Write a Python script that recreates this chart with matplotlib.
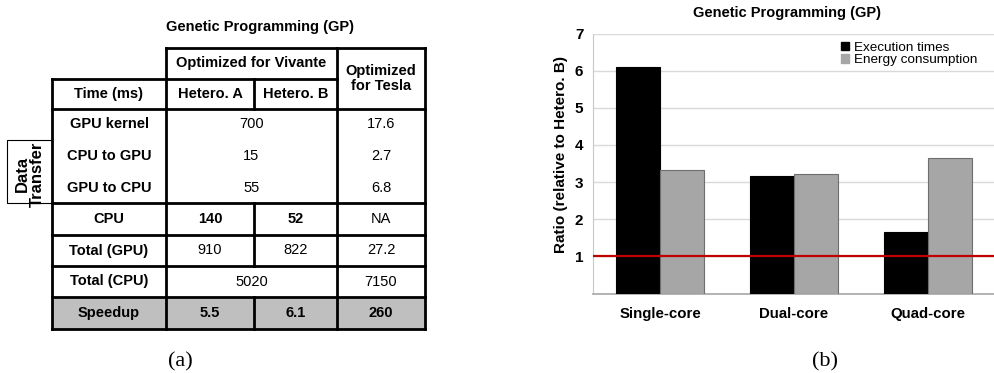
import matplotlib
matplotlib.use("Agg")
import matplotlib.pyplot as plt
from matplotlib.patches import Patch, Rectangle

plt.rcParams['font.family'] = ['Liberation Sans', 'DejaVu Sans']

# ---- table data (a) ----
row_labels = ["GPU kernel", "CPU to GPU", "GPU to CPU", "CPU",
              "Total (GPU)", "Total (CPU)", "Speedup"]
hetero_a = ["700", "15", "55", "140", "910", "5020", "5.5"]
hetero_b = [None, None, None, "52", "822", None, "6.1"]   # None -> merged with A
tesla = ["17.6", "2.7", "6.8", "NA", "27.2", "7150", "260"]
bold_rows = {"CPU": (True, True, False), "Speedup": (True, True, True)}

# ---- bar chart data (b) ----
categories = ["Single-core", "Dual-core", "Quad-core"]
exec_times = [6.1, 3.16, 1.65]
energy = [3.32, 3.23, 3.66]
baseline = 1.0

W, H = 995, 373
fig = plt.figure(figsize=(W / 100, H / 100), dpi=100)

# ---------------- table, drawn in pixel coordinates ----------------
tax = fig.add_axes([0, 0, 1, 1])
tax.set_xlim(0, W)
tax.set_ylim(H, 0)
tax.axis('off')

cols = [52, 166, 254, 337, 425]
hdr = [48, 79, 109]
row_edges = [109, 140, 172, 203, 235, 266, 297, 329]
lw = 2.0
fs = 10.5

# speedup shading
tax.add_patch(Rectangle((cols[0], row_edges[-2]), cols[-1] - cols[0],
                        row_edges[-1] - row_edges[-2], color='#bfbfbf', lw=0))

def hline(y, x0, x1):
    tax.plot([x0, x1], [y, y], color='black', lw=lw, solid_capstyle='projecting')

def vline(x, y0, y1):
    tax.plot([x, x], [y0, y1], color='black', lw=lw, solid_capstyle='projecting')

hline(hdr[0], cols[1], cols[4])
hline(hdr[1], cols[0], cols[3])
hline(hdr[2], cols[0], cols[4])
for y in row_edges[3:]:
    hline(y, cols[0], cols[4])
vline(cols[0], hdr[1], row_edges[-1])
vline(cols[1], hdr[0], row_edges[-1])
vline(cols[3], hdr[0], row_edges[-1])
vline(cols[4], hdr[0], row_edges[-1])
vline(cols[2], hdr[1], hdr[2])
for i, b in enumerate(hetero_b):
    if b is not None:
        vline(cols[2], row_edges[i], row_edges[i + 1])

def cell(x, y, s, bold=False, **kw):
    tax.text(x, y, s, ha='center', va='center', fontsize=fs,
             fontweight='bold' if bold else 'normal', **kw)

mid = lambda a, b: (a + b) / 2
cell(mid(cols[1], cols[3]), mid(hdr[0], hdr[1]), "Optimized for Vivante", True)
cell(mid(cols[3], cols[4]), mid(hdr[0], hdr[2]), "Optimized\nfor Tesla", True, linespacing=1.1)
cell(mid(cols[0], cols[1]), mid(hdr[1], hdr[2]), "Time (ms)", True)
cell(mid(cols[1], cols[2]), mid(hdr[1], hdr[2]), "Hetero. A", True)
cell(mid(cols[2], cols[3]), mid(hdr[1], hdr[2]), "Hetero. B", True)

for i, lab in enumerate(row_labels):
    yc = mid(row_edges[i], row_edges[i + 1])
    ba, bb, bt = bold_rows.get(lab, (False, False, False))
    cell(mid(cols[0], cols[1]), yc, lab, True)
    if hetero_b[i] is None:
        cell(mid(cols[1], cols[3]), yc, hetero_a[i], ba)
    else:
        cell(mid(cols[1], cols[2]), yc, hetero_a[i], ba)
        cell(mid(cols[2], cols[3]), yc, hetero_b[i], bb)
    cell(mid(cols[3], cols[4]), yc, tesla[i], bt)

# "Data Transfer" side box
tax.add_patch(Rectangle((7, 140), cols[0] - 7, row_edges[3] - 140,
                        fill=False, ec='black', lw=0.8))
tax.text(30, 174, "Data\nTransfer", rotation=90, ha='center', va='center',
         fontsize=12, fontweight='bold', linespacing=0.95)

tax.text(260, 27, "Genetic Programming (GP)", ha='center', va='center',
         fontsize=10.5, fontweight='bold')
tax.text(180, 362, "(a)", ha='center', va='center', fontsize=16,
         family='Liberation Serif')
tax.text(825, 362, "(b)", ha='center', va='center', fontsize=16,
         family='Liberation Serif')
tax.text(787, 13, "Genetic Programming (GP)", ha='center', va='center',
         fontsize=10.5, fontweight='bold')

# ---------------- bar chart ----------------
ax = fig.add_axes([593 / W, 1 - 293.5 / H, 402 / W, 260 / H])
x = range(len(categories))
bw = 0.332
ax.bar([i - bw / 2 for i in x], exec_times, bw, color='black',
       edgecolor='black', lw=0.8, zorder=3, label='Execution times')
ax.bar([i + bw / 2 for i in x], energy, bw, color='#a6a6a6',
       edgecolor='#6e6e6e', lw=0.8, zorder=3, label='Energy consumption')
ax.axhline(baseline, color='#c00000', lw=1.6, zorder=4)

ax.set_xlim(-0.5, len(categories) - 0.5)
ax.set_ylim(0, 7)
ax.set_yticks(range(1, 8))
ax.set_xticks(list(x))
ax.set_xticklabels(categories, fontsize=10.8, fontweight='bold')
for t in ax.get_yticklabels():
    t.set_fontsize(11)
    t.set_fontweight('bold')
ax.tick_params(length=0)
ax.tick_params(axis='x', pad=10)
ax.tick_params(axis='y', pad=7)
ax.grid(axis='y', color='#d9d9d9', lw=1, zorder=0)
for s in ['top', 'right']:
    ax.spines[s].set_visible(False)
ax.spines['left'].set_color('#c8c8c8')
ax.spines['bottom'].set_color('#a6a6a6')
ax.spines['bottom'].set_linewidth(1.2)

ax.set_ylabel("Ratio (relative to Hetero. B)", fontsize=11, fontweight='bold')
ax.yaxis.set_label_coords(-0.062, 0.535)

handles = [Patch(color='black'), Patch(color='#a6a6a6')]
ax.legend(handles, ['Execution times', 'Energy consumption'],
          loc='upper left', bbox_to_anchor=(0.598, 1.0), frameon=False,
          fontsize=9.7, handlelength=0.55, handleheight=0.55,
          handletextpad=0.4, labelspacing=0.05, borderaxespad=0.2)

fig.savefig("out.png", dpi=100)
